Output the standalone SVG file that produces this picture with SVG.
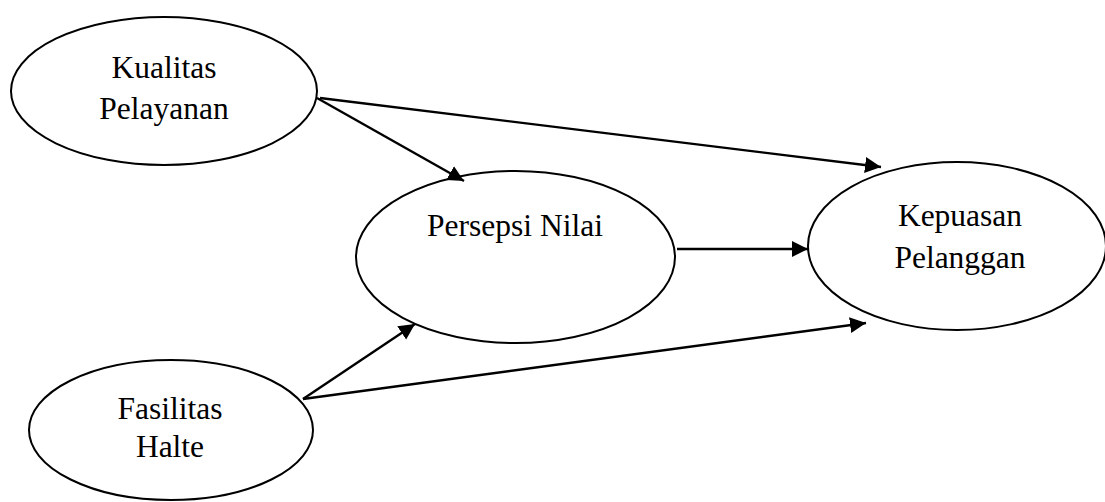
<svg xmlns="http://www.w3.org/2000/svg" width="1105" height="502" viewBox="0 0 1105 502">
<style>
.node ellipse{fill:#fff;stroke:#000;stroke-width:2}
.node text{font-family:"Liberation Serif","Times New Roman",serif;font-size:31.5px;fill:#000;text-anchor:middle}
.edges line{stroke:#000;stroke-width:2.4;marker-end:url(#ah)}
</style>
<defs>
<marker id="ah" markerUnits="userSpaceOnUse" markerWidth="17" markerHeight="17" refX="16" refY="8" orient="auto">
<path d="M0,0 L16,8 L0,16 z" fill="#000"/>
</marker>
</defs>
<rect width="1105" height="502" fill="#fff"/>
<g id="kualitas" class="node">
<ellipse cx="164" cy="91" rx="153" ry="74"/>
<text x="164" y="78">Kualitas</text>
<text x="164" y="119">Pelayanan</text>
</g>
<g id="persepsi" class="node">
<ellipse cx="515.5" cy="257" rx="159.5" ry="86"/>
<text x="515" y="236">Persepsi Nilai</text>
</g>
<g id="kepuasan" class="node">
<ellipse cx="957" cy="246" rx="149" ry="84"/>
<text x="960" y="226">Kepuasan</text>
<text x="960" y="268">Pelanggan</text>
</g>
<g id="fasilitas" class="node">
<ellipse cx="171" cy="430" rx="142" ry="70"/>
<text x="170" y="419">Fasilitas</text>
<text x="170" y="457">Halte</text>
</g>
<g id="connectors" class="edges">
<line x1="317" y1="98" x2="464" y2="181"/>
<line x1="320" y1="98" x2="881" y2="167"/>
<line x1="677" y1="249" x2="808" y2="249"/>
<line x1="303" y1="399" x2="415" y2="324"/>
<line x1="303" y1="399" x2="866" y2="323"/>
</g>
</svg>
